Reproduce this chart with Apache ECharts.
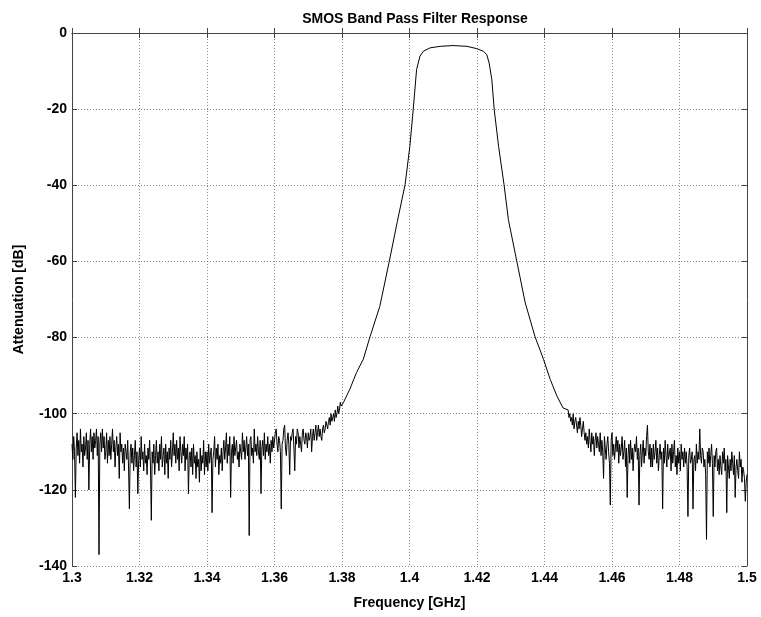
<!DOCTYPE html>
<html>
<head>
<meta charset="utf-8">
<title>SMOS Band Pass Filter Response</title>
<script src="https://cdn.jsdelivr.net/npm/echarts@6/dist/echarts.min.js"></script>
<style>
  html, body { margin: 0; padding: 0; background: #fff; }
  #chart { width: 761px; height: 617px; }
</style>
</head>
<body>
<div id="chart"></div>
<script>
// noise floor below the band, sampled every 0.25 MHz
const noiseStep = 0.00025;
const lowNoiseStart = 1.3;
const lowNoise = [
  -108, -112, -106, -110, -122, -109, -105, -111, -107, -113, -104, -110, -108, -114, -106, -111, -109, -105, -112, -107,
  -120, -108, -104, -110, -106, -112, -105, -109, -107, -104, -111, -106, -137, -108, -105, -110, -104, -109, -106, -112,
  -110, -105, -113, -107, -111, -106, -112, -108, -104, -110, -107, -114, -109, -106, -111, -108, -117, -105, -110, -108,
  -113, -109, -115, -108, -110, -112, -107, -114, -125, -110, -108, -113, -109, -115, -111, -107, -114, -110, -121, -112,
  -109, -114, -106, -112, -110, -115, -108, -113, -111, -116, -109, -112, -107, -114, -128, -110, -113, -108, -116, -111,
  -107, -113, -110, -115, -108, -112, -106, -114, -111, -109, -116, -108, -113, -110, -117, -109, -112, -107, -114, -110,
  -105, -111, -108, -113, -107, -112, -109, -115, -106, -110, -113, -108, -111, -106, -115, -109, -112, -108, -121, -111,
  -110, -114, -109, -116, -108, -113, -111, -117, -110, -114, -112, -118, -109, -115, -111, -113, -107, -116, -110, -114,
  -110, -115, -108, -113, -111, -109, -126, -112, -110, -106, -114, -109, -112, -108, -116, -111, -113, -109, -115, -110,
  -107, -112, -109, -105, -113, -108, -111, -106, -122, -110, -108, -113, -106, -111, -109, -107, -112, -110, -114, -108,
  -108, -112, -105, -110, -107, -112, -109, -106, -111, -108, -132, -107, -106, -111, -109, -113, -104, -110, -108, -111,
  -106, -110, -112, -107, -121, -109, -107, -111, -105, -112, -108, -110, -106, -111, -108, -113, -107, -110, -106, -109,
  -109, -105, -104, -108, -110, -106, -107, -110, -125, -108, -107, -104, -103, -109, -111, -107, -105, -108, -116, -106,
  -107, -105, -104, -109, -115, -106, -108, -104, -105, -109, -106, -108, -110, -105, -104, -107, -108, -105, -106, -109,
  -105, -107, -106, -104, -110, -106, -104, -107, -105, -103, -107, -105, -103, -106, -104, -106, -107, -104, -103, -105,
  -104, -102, -103, -104, -102, -101, -103, -100, -102, -101, -100, -102, -99, -101, -100, -98, -100, -99, -97, -98
];

// the filter itself (skirts + passband)
const bandFreq = [
  1.3804, 1.3823, 1.3843, 1.3863, 1.3883, 1.3912, 1.3940, 1.3964, 1.3987,
  1.4001, 1.4011, 1.4021, 1.4031, 1.4041, 1.4061, 1.4091, 1.4129, 1.4170,
  1.4199, 1.4219, 1.4229, 1.4236, 1.4244, 1.4251, 1.4264, 1.4280, 1.4293,
  1.4318, 1.4343, 1.4372, 1.4397, 1.4417, 1.4437, 1.4455
];
const bandAtt = [
  -97.1, -93.6, -89.2, -85.7, -79.8, -71.8, -60, -49.5, -39.8,
  -29.8, -20.1, -9.6, -6.1, -4.8, -3.9, -3.5, -3.3, -3.5,
  -4.1, -4.8, -5.7, -7.9, -12.3, -20.1, -29.8, -39.8, -49,
  -60, -70.9, -79.8, -85.7, -91, -95.4, -98.5
];

// noise floor above the band
const highNoiseStart = 1.447;
const highNoise = [
  -99, -101, -100, -102, -101, -103, -100, -104, -102, -101, -103, -105, -102, -104, -101, -103, -106, -104, -102, -105,
  -107, -105, -108, -106, -109, -104, -107, -110, -105, -108, -106, -111, -107, -105, -109, -106, -108, -110, -105, -111,
  -107, -110, -117, -106, -109, -112, -108, -106, -110, -113, -124, -107, -105, -111, -108, -112, -109, -106, -110, -107,
  -113, -108, -111, -109, -106, -112, -110, -107, -114, -109, -122, -111, -108, -113, -107, -112, -109, -115, -110, -108,
  -110, -106, -112, -109, -124, -111, -108, -114, -110, -107, -113, -109, -111, -106, -103, -110, -112, -108, -114, -109,
  -114, -108, -112, -110, -107, -113, -109, -115, -111, -108, -112, -110, -125, -109, -113, -107, -111, -114, -108, -112,
  -112, -109, -115, -108, -113, -110, -107, -114, -111, -116, -109, -113, -110, -115, -108, -112, -110, -114, -109, -113,
  -110, -114, -127, -111, -109, -113, -112, -110, -125, -112, -111, -115, -108, -113, -110, -112, -104, -111, -113, -109,
  -110, -114, -112, -116, -133, -110, -113, -109, -114, -111, -108, -113, -127, -111, -114, -110, -109, -115, -112, -116,
  -111, -114, -116, -110, -113, -109, -115, -112, -126, -111, -114, -117, -112, -115, -110, -113, -116, -111, -122, -114,
  -112, -115, -117, -110, -114, -112, -118, -114, -115, -117, -123, -118, -116
];

const xTicks = { min: 1.3, max: 1.5, interval: 0.02 };
const yTicks = { min: -140, max: 0, interval: 20 };

const points = [];
lowNoise.forEach((v, i) => points.push([lowNoiseStart + i * noiseStep, v]));
bandFreq.forEach((f, i) => points.push([f, bandAtt[i]]));
highNoise.forEach((v, i) => points.push([highNoiseStart + i * noiseStep, v]));

const font = "Liberation Sans, Arial, sans-serif";
const frame = "#444";
const gridLine = { show: true, lineStyle: { color: "#888", type: [1, 2], width: 1 } };

const chart = echarts.init(document.getElementById("chart"));
chart.setOption({
  animation: false,
  backgroundColor: "#fff",
  title: {
    text: "SMOS Band Pass Filter Response",
    left: 410,
    top: 7,
    textAlign: "center",
    textStyle: { fontFamily: font, fontWeight: "bold", fontSize: 14, color: "#000" },
  },
  grid: { left: 72, right: 14, top: 33, bottom: 51 },
  xAxis: [
    {
      type: "value",
      ...xTicks,
      name: "Frequency [GHz]",
      nameLocation: "middle",
      nameGap: 30,
      nameTextStyle: { fontFamily: font, fontWeight: "bold", fontSize: 14, color: "#000" },
      axisLine: { lineStyle: { color: frame } },
      axisTick: { inside: true, length: 5, lineStyle: { color: frame } },
      axisLabel: {
        fontFamily: font, fontWeight: "bold", fontSize: 14, color: "#000", margin: 5,
        formatter: (v) => String(+v.toFixed(2)),
      },
      splitLine: gridLine,
    },
    {
      type: "value",
      ...xTicks,
      position: "top",
      axisLine: { lineStyle: { color: frame } },
      axisTick: { inside: true, length: 5, lineStyle: { color: frame } },
      axisLabel: { show: false },
      splitLine: { show: false },
    },
  ],
  yAxis: [
    {
      type: "value",
      ...yTicks,
      name: "Attenuation [dB]",
      nameLocation: "middle",
      nameGap: 46,
      nameTextStyle: { fontFamily: font, fontWeight: "bold", fontSize: 14, color: "#000" },
      axisLine: { show: true, lineStyle: { color: frame } },
      axisTick: { show: true, inside: true, length: 5, lineStyle: { color: frame } },
      axisLabel: { fontFamily: font, fontWeight: "bold", fontSize: 14, color: "#000", margin: 5 },
      splitLine: gridLine,
    },
    {
      type: "value",
      ...yTicks,
      position: "right",
      axisLine: { show: true, lineStyle: { color: frame } },
      axisTick: { show: true, inside: true, length: 5, lineStyle: { color: frame } },
      axisLabel: { show: false },
      splitLine: { show: false },
    },
  ],
  series: [
    {
      type: "line",
      data: points,
      showSymbol: false,
      symbol: "none",
      lineStyle: { color: "#000", width: 1 },
      clip: true,
    },
  ],
});
</script>
</body>
</html>
